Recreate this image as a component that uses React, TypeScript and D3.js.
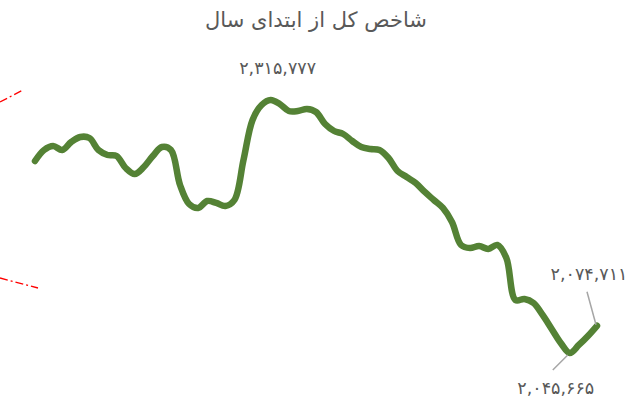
import React from "react";
import * as d3 from "d3";

const title = "شاخص کل از ابتدای سال";

const values: number[] = [
  2250660, 2262400, 2266670, 2262400, 2270940, 2276280, 2275210, 2262400, 2257060, 2255990,
  2243180, 2236780, 2244250, 2255990, 2265600, 2262400, 2225030, 2204750, 2200480, 2207950,
  2205820, 2202610, 2209020, 2251720, 2294430, 2310440, 2315777, 2311510, 2304030, 2304030,
  2306170, 2302970, 2290160, 2282680, 2279480, 2272010, 2265600, 2263470, 2262400, 2253860,
  2239980, 2233570, 2227170, 2217560, 2209020, 2200480, 2185530, 2160980, 2157780, 2159910,
  2156710, 2160980, 2147100, 2102260, 2103330, 2099060, 2086250, 2071300, 2056350, 2045665,
  2054220, 2063830, 2074711,
];

const labelledIdx = { max: 26, min: 59, last: 62 };

const faNumerals = ["۰", "۱", "۲", "۳", "۴", "۵", "۶", "۷", "۸", "۹"];

export default function App() {
  const W = 641, H = 412;
  const x = d3.scaleLinear().domain([0, values.length - 1]).range([35, 597]);
  const y = d3.scaleLinear().domain([d3.min(values)!, d3.max(values)!]).range([353, 100]);
  const line = d3
    .line<number>()
    .x((_, i) => x(i))
    .y((d) => y(d))
    .curve(d3.curveCatmullRom.alpha(0.5));
  const fmt = d3.formatLocale({
    decimal: ".",
    thousands: ",",
    grouping: [3],
    currency: ["", ""],
    numerals: faNumerals,
  }).format(",d");

  const font = "DejaVu Sans, sans-serif";
  const pMax = { x: x(labelledIdx.max), y: y(values[labelledIdx.max]) };
  const pMin = { x: x(labelledIdx.min), y: y(values[labelledIdx.min]) };
  const pLast = { x: x(labelledIdx.last), y: y(values[labelledIdx.last]) };

  return (
    <svg
      width={W}
      height={H}
      style={{ position: "absolute", left: 0, top: 0, background: "#fff" }}
    >
      <text
        x={316}
        y={27}
        textAnchor="middle"
        fontFamily={font}
        fontSize={21}
        fill="#595959"
        direction="rtl"
      >
        {title}
      </text>
      {/* stray red guide lines */}
      <line x1={0} y1={102} x2={23} y2={90} stroke="red" strokeWidth={1.3} strokeDasharray="8 3 2 3" />
      <line x1={0} y1={278} x2={38} y2={288} stroke="red" strokeWidth={1.3} strokeDasharray="8 3 2 3" />
      <path
        d={line(values) || ""}
        fill="none"
        stroke="#548235"
        strokeWidth={6.5}
        strokeLinecap="round"
        strokeLinejoin="round"
      />
      {/* leader lines */}
      <line x1={pLast.x - 10} y1={pLast.y - 34} x2={pLast.x - 1} y2={pLast.y - 1} stroke="#a6a6a6" strokeWidth={1.5} />
      <line x1={pMin.x - 17} y1={pMin.y + 17} x2={pMin.x - 2} y2={pMin.y + 2} stroke="#a6a6a6" strokeWidth={1.5} />
      <g fontFamily={font} fontSize={17.5} fill="#595959" direction="ltr">
        <text x={pMax.x + 7} y={pMax.y - 26} textAnchor="middle">{fmt(values[labelledIdx.max])}</text>
        <text x={pLast.x - 8} y={pLast.y - 46} textAnchor="middle">{fmt(values[labelledIdx.last])}</text>
        <text x={pMin.x - 14} y={pMin.y + 41} textAnchor="middle">{fmt(values[labelledIdx.min])}</text>
      </g>
    </svg>
  );
}
